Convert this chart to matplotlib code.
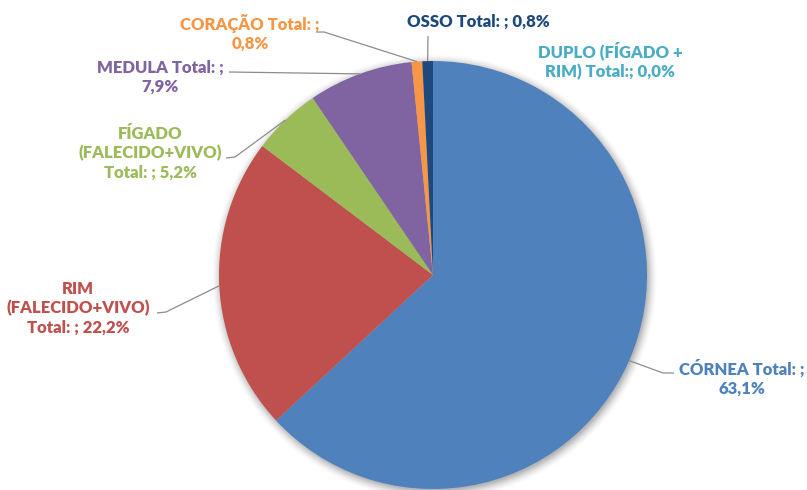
import numpy as np
import matplotlib
matplotlib.use("Agg")
import matplotlib.pyplot as plt

# Transplant share by organ / tissue
categories = ["CÓRNEA", "RIM (FALECIDO+VIVO)", "FÍGADO (FALECIDO+VIVO)", "MEDULA",
              "CORAÇÃO", "OSSO", "DUPLO (FÍGADO + RIM)"]
values = [63.1, 22.2, 5.2, 7.9, 0.8, 0.8, 0.0]
label_texts = [
    "CÓRNEA Total: ;\n63,1%",
    "RIM\n(FALECIDO+VIVO)\nTotal: ; 22,2%",
    "FÍGADO\n(FALECIDO+VIVO)\nTotal: ; 5,2%",
    "MEDULA Total: ;\n7,9%",
    "CORAÇÃO Total: ;\n0,8%",
    "OSSO Total: ; 0,8%",
    "DUPLO (FÍGADO +\nRIM) Total:; 0,0%",
]
colors = ["#4F81BD", "#C0504D", "#9BBB59", "#8064A2", "#F79646", "#1F497D", "#4BACC6"]

W, H = 807, 490
CX, CY, R = 433, 275, 214  # pie centre and radius in pixels


def px(x, y):
    """Pixel position (origin top-left) -> data units around the pie centre."""
    return (x - CX) / R, (CY - y) / R


# label centre and leader path (label side first) in pixels; None = no leader
label_pos = [(742, 378), (78, 308), (150, 153), (160, 77), (250, 33), (478, 22), (610, 61)]
leader_paths = [
    [(674, 373), (663, 373)],
    [(157, 313), (166, 312)],
    [(226, 158), (235, 157)],
    [(229, 72)],
    [(316, 32), (324, 32)],
    [(428, 36)],
    None,
]

fig = plt.figure(figsize=(W / 100, H / 100), dpi=100)
ax = fig.add_axes([0, 0, 1, 1])

wedges, _ = ax.pie(values, colors=colors, startangle=90, counterclock=False,
                   radius=1.0, wedgeprops=dict(linewidth=0))
for w in wedges:
    w.set_zorder(2)

# soft shadow around the pie
xs = np.linspace(-1.1, 1.1, 400)
XX, YY = np.meshgrid(xs, xs)
rr = np.hypot(XX - 0.005, YY + 0.012)
alpha = np.clip((1.045 - rr) / 0.05, 0, 1) ** 1.6 * 0.45
shadow = np.zeros((400, 400, 4))
shadow[..., :3] = 0.35
shadow[..., 3] = alpha
ax.imshow(shadow, extent=(-1.1, 1.1, -1.1, 1.1), origin="lower", zorder=0,
          interpolation="bilinear")

for w, txt, pos, path, col in zip(wedges, label_texts, label_pos, leader_paths, colors):
    tx, ty = px(*pos)
    ax.text(tx, ty, txt, ha="center", va="center", color=col, fontsize=12,
            fontweight="heavy", family="Lato", linespacing=1.25, zorder=4)
    if path is None:
        continue
    mid = np.deg2rad((w.theta1 + w.theta2) / 2)
    edge = (np.cos(mid), np.sin(mid))
    pts = [px(*p) for p in path] + [edge]
    ax.plot([p[0] for p in pts], [p[1] for p in pts], color="#8C8C8C",
            linewidth=0.9, zorder=3, solid_capstyle="butt")

ax.set_xlim(-CX / R, (W - CX) / R)
ax.set_ylim(-(H - CY) / R, CY / R)
ax.set_aspect("auto")
ax.axis("off")

fig.savefig("out.png", dpi=100)
